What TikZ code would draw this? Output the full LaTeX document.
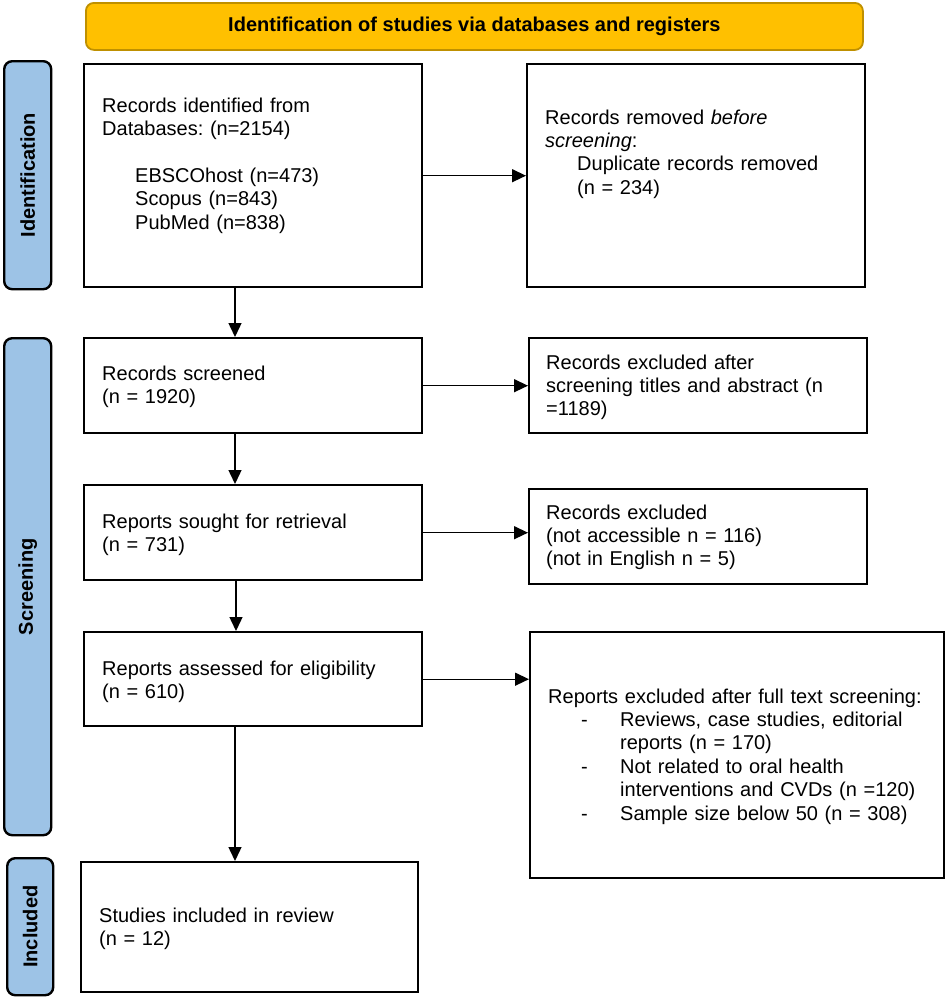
\documentclass[tikz,border=0pt]{standalone}
\usepackage{fontspec}
\setmainfont{Liberation Sans}
\usetikzlibrary{arrows.meta}
\definecolor{bannerfill}{HTML}{FFC000}
\definecolor{bannerline}{HTML}{BF9000}
\definecolor{sidefill}{HTML}{9DC3E6}
\frenchspacing
\begin{document}
\begin{tikzpicture}[x=1pt,y=-1pt,
  box/.style={draw=black, line width=2.4pt, fill=white, anchor=north west, inner sep=0pt},
  txt/.style={anchor=base west, inner sep=0pt, align=left, text width=#1, font=\fontsize{20}{23.4}\selectfont},
  sidelabel/.style={draw=black, fill=sidefill, line width=2.4pt, rounded corners=8pt, anchor=north west, inner sep=0pt},
  sidetext/.style={rotate=90, inner sep=0pt, font=\fontsize{20}{24}\selectfont\bfseries},
  flow/.style={line width=1.4pt, -{Triangle[length=14pt,width=13pt]}}
]
\useasboundingbox (0,0) rectangle (945,997);

% banner
\node[draw=bannerline, fill=bannerfill, line width=1.8pt, rounded corners=8pt,
      minimum width=777pt, minimum height=47pt, anchor=north west, inner sep=0pt,
      font=\fontsize{20}{24}\selectfont\bfseries] (banner) at (85,2)
      {Identification of studies via databases and registers};

% side labels
\node[sidelabel, minimum width=47pt, minimum height=228pt] (s1) at (3,60) {};
\node[sidetext] (s1t) at (s1.center) {Identification};
\node[sidelabel, minimum width=47pt, minimum height=497pt] (s2) at (3,337) {};
\node[sidetext] (s2t) at (s2.center) {Screening};
\node[sidelabel, minimum width=46pt, minimum height=137pt] (s3) at (6,857) {};
\node[sidetext] (s3t) at (s3.center) {Included};

% boxes
\node[box, minimum width=338pt, minimum height=223pt] (b1) at (83,63) {};
\node[box, minimum width=338pt, minimum height=223pt] (b2) at (526,63) {};
\node[box, minimum width=338pt, minimum height=95pt] (b3) at (83,337) {};
\node[box, minimum width=338pt, minimum height=95pt] (b4) at (528,337) {};
\node[box, minimum width=338pt, minimum height=95pt] (b5) at (83,484) {};
\node[box, minimum width=338pt, minimum height=95pt] (b6) at (528,488) {};
\node[box, minimum width=338pt, minimum height=94pt] (b7) at (83,631) {};
\node[box, minimum width=414pt, minimum height=246pt] (b8) at (529,631) {};
\node[box, minimum width=337pt, minimum height=130pt] (b9) at (80,861) {};

% texts
\node[txt=310pt] (t1) at (102,112) {Records identified from\\Databases: (n=2154)\\[23.4pt]\hspace*{33pt}EBSCOhost (n=473)\\\hspace*{33pt}Scopus (n=843)\\\hspace*{33pt}PubMed (n=838)};
\node[txt=310pt] (t2) at (545,124) {Records removed \textit{before}\\\textit{screening}:\\\hspace*{32pt}Duplicate records removed\\\hspace*{32pt}(n = 234)};
\node[txt=310pt] (t3) at (102,380) {Records screened\\(n = 1920)};
\node[txt=315pt] (t4) at (546,369) {Records excluded after\\screening titles and abstract (n\\=1189)};
\node[txt=310pt] (t5) at (102,528) {Reports sought for retrieval\\(n = 731)};
\node[txt=310pt] (t6) at (546,519) {Records excluded\\(not accessible n = 116)\\(not in English n = 5)};
\node[txt=310pt] (t7) at (102,675) {Reports assessed for eligibility\\(n = 610)};
\node[txt=400pt] (t8) at (548,703) {Reports excluded after full text screening:\\
\hspace*{33pt}\makebox[39pt][l]{-}Reviews, case studies, editorial\\
\hspace*{72pt}reports (n = 170)\\
\hspace*{33pt}\makebox[39pt][l]{-}Not related to oral health\\
\hspace*{72pt}interventions and CVDs (n =120)\\
\hspace*{33pt}\makebox[39pt][l]{-}Sample size below 50 (n = 308)};
\node[txt=310pt] (t9) at (99,922) {Studies included in review\\(n = 12)};

% connectors
\coordinate (ax) at (235,0);
\coordinate (bx) at (236,0);
\draw[flow] (b1.east) -- (b2.west);
\draw[flow] (b1.south -| ax) -- (b3.north -| ax);
\draw[flow] (b3.east) -- (b4.west);
\draw[flow] (b3.south -| ax) -- (b5.north -| ax);
\draw[flow] (b5.east) -- (b5.east -| b6.west);
\draw[flow] (b5.south -| bx) -- (b7.north -| bx);
\draw[flow] (b7.east) -- (b7.east -| b8.west);
\draw[flow] (b7.south -| ax) -- (b9.north -| ax);
\end{tikzpicture}
\end{document}
